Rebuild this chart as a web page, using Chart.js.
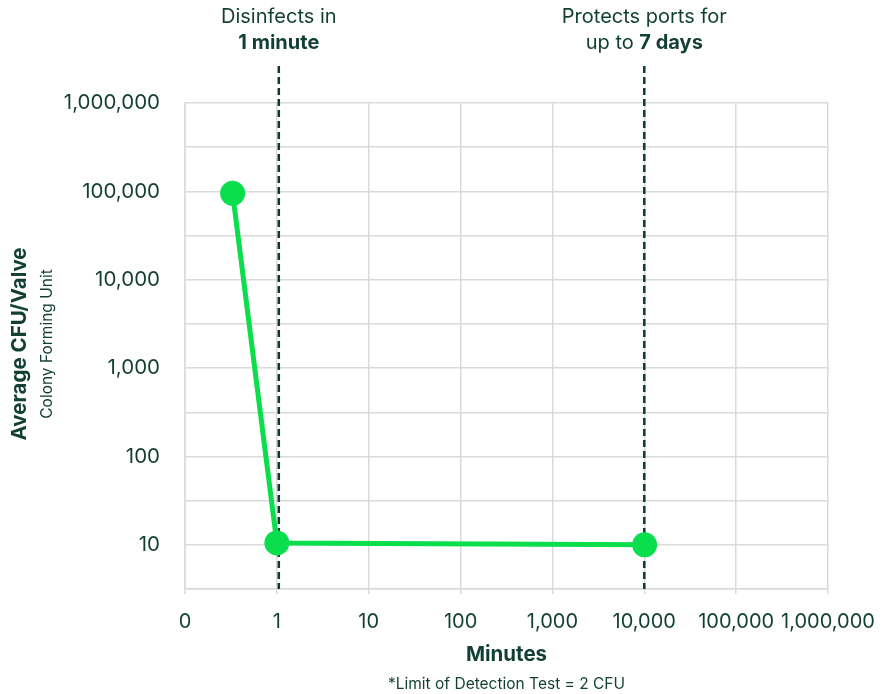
<!DOCTYPE html>
<html>
<head>
<meta charset="utf-8">
<script src="https://cdn.jsdelivr.net/npm/chart.js@4.4.0/dist/chart.umd.min.js"></script>
<style>
  html, body { margin: 0; padding: 0; background: #fff; }
  #wrap { width: 892px; height: 694px; }
</style>
</head>
<body>
<div id="wrap"><canvas id="chart" width="892" height="694"></canvas></div>
<script>
// data
const xTickLabels = ["0", "1", "10", "100", "1,000", "10,000", "100,000", "1,000,000"];
const minutes = [0.33, 1, 10080];
const cfu = [95000, 10.5, 10];
const yGridValues = [3.162, 10, 31.62, 100, 316.2, 1000, 3162, 10000, 31623, 100000, 316228, 1000000];
const yLabelValues = [10, 100, 1000, 10000, 100000, 1000000];
const markerMinutes = [1.05, 10000];

const ink = "#123f33";
const green = "#0ade4c";
const gridColor = "#dadada";
const font = "Inter";

// 0 sits at the left edge, then one step per decade
const toPos = (m) => (m === 0 ? 0 : Math.log10(m) + 1);

const points = minutes.map((m, i) => ({ x: toPos(m), y: cfu[i] }));

const decorations = {
  id: "decorations",
  beforeDatasetsDraw(chart) {
    const { ctx, chartArea, scales } = chart;
    ctx.save();
    ctx.strokeStyle = "#0f3a2e";
    ctx.lineWidth = 2.5;
    ctx.setLineDash([7, 4]);
    markerMinutes.forEach((m) => {
      const x = scales.x.getPixelForValue(toPos(m));
      ctx.beginPath();
      ctx.moveTo(x, 66);
      ctx.lineTo(x, chartArea.bottom);
      ctx.stroke();
    });
    ctx.restore();
  },
  afterDraw(chart) {
    const { ctx, chartArea, scales } = chart;
    const midX = (chartArea.left + chartArea.right) / 2;
    ctx.save();
    ctx.fillStyle = ink;
    ctx.textBaseline = "middle";
    ctx.textAlign = "center";

    // annotations above the dashed lines
    const x1 = scales.x.getPixelForValue(toPos(markerMinutes[0]));
    const x2 = scales.x.getPixelForValue(toPos(markerMinutes[1]));
    ctx.font = `400 20px ${font}`;
    ctx.fillText("Disinfects in", x1, 17);
    ctx.font = `700 20px ${font}`;
    ctx.fillText("1 minute", x1, 43);

    ctx.font = `400 20px ${font}`;
    ctx.fillText("Protects ports for", x2, 17);
    const a = "up to ";
    const b = "7 days";
    const wa = ctx.measureText(a).width;
    ctx.font = `700 20px ${font}`;
    const wb = ctx.measureText(b).width;
    const start = x2 - (wa + wb) / 2;
    ctx.textAlign = "left";
    ctx.font = `400 20px ${font}`;
    ctx.fillText(a, start, 43);
    ctx.font = `700 20px ${font}`;
    ctx.fillText(b, start + wa, 43);

    // x title and footnote
    ctx.textAlign = "center";
    ctx.font = `700 20.5px ${font}`;
    ctx.fillText("Minutes", midX, 655);
    ctx.font = `400 15.5px ${font}`;
    ctx.fillText("*Limit of Detection Test = 2 CFU", midX, 684);

    // y titles
    ctx.translate(20, 344);
    ctx.rotate(-Math.PI / 2);
    ctx.font = `700 20.5px ${font}`;
    ctx.fillText("Average CFU/Valve", 0, 0);
    ctx.font = `400 15.5px ${font}`;
    ctx.fillText("Colony Forming Unit", 0, 27);
    ctx.restore();
  }
};

new Chart(document.getElementById("chart").getContext("2d"), {
  type: "line",
  data: {
    datasets: [
      {
        data: points,
        borderColor: green,
        backgroundColor: green,
        borderWidth: 5,
        tension: 0,
        pointRadius: 12.5,
        pointBorderWidth: 0,
        pointBackgroundColor: green,
        clip: false
      }
    ]
  },
  options: {
    responsive: false,
    animation: false,
    layout: { padding: { left: 0, right: 64, top: 103, bottom: 0 } },
    plugins: { legend: { display: false }, tooltip: { enabled: false } },
    scales: {
      x: {
        type: "linear",
        min: 0,
        max: 7,
        afterFit: (s) => { s.height = 105; },
        afterBuildTicks: (s) => {
          s.ticks = xTickLabels.map((_, i) => ({ value: i }));
        },
        grid: { color: gridColor, lineWidth: 1.5, tickLength: 5 },
        border: { color: gridColor, width: 1.5 },
        ticks: {
          color: ink,
          font: { family: font, size: 20 },
          padding: 16,
          maxRotation: 0,
          autoSkip: false,
          callback: (v) => xTickLabels[v]
        }
      },
      y: {
        type: "logarithmic",
        min: yGridValues[0],
        max: 1000000,
        afterFit: (s) => { s.width = 185; },
        afterBuildTicks: (s) => {
          s.ticks = yGridValues.map((v) => ({ value: v }));
        },
        grid: { color: gridColor, lineWidth: 1.5, drawTicks: false },
        border: { color: gridColor, width: 1.5 },
        ticks: {
          color: ink,
          font: { family: font, size: 20.5 },
          padding: 25,
          autoSkip: false,
          callback: (v) => (yLabelValues.includes(v) ? v.toLocaleString("en-US") : "")
        }
      }
    }
  },
  plugins: [decorations]
});
</script>
</body>
</html>
